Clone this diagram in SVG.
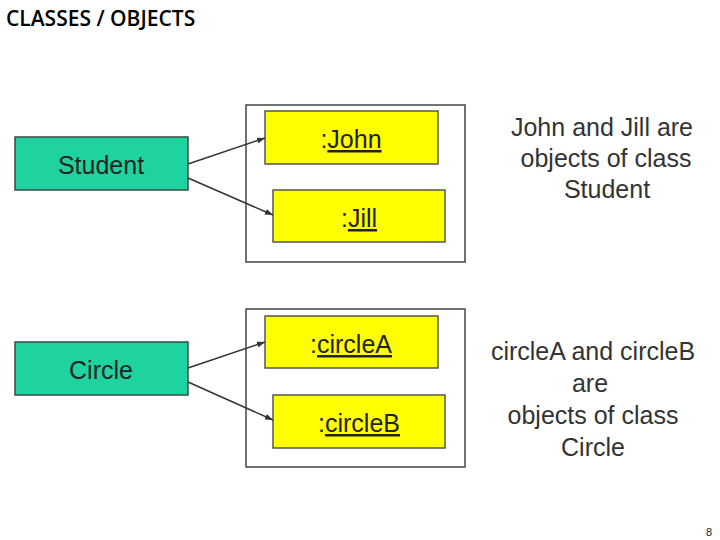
<svg xmlns="http://www.w3.org/2000/svg" width="720" height="540" viewBox="0 0 720 540">
<style>
text{font-family:"Liberation Sans",Arial,sans-serif;fill:#222}
.cls{fill:#1fd3a0;stroke:#3a4a44;stroke-width:1.5}
.obj{fill:#ffff00;stroke:#555;stroke-width:1.5}
.outer{fill:#fff;stroke:#444;stroke-width:1.5}
.lbl{font-size:25px;text-anchor:middle}
.u{text-decoration:underline}
.note{font-size:25px;text-anchor:middle;fill:#333}
.con line{stroke:#333;stroke-width:1.5;marker-end:url(#ah)}
</style>
<defs><marker id="ah" markerWidth="8" markerHeight="6" refX="8" refY="3" orient="auto" markerUnits="userSpaceOnUse"><path d="M0,0L8,3L0,6z" fill="#333"/></marker></defs>
<rect width="720" height="540" fill="#fff"/>
<text x="6" y="26" style="font-family:'Open Sans','Liberation Sans',sans-serif;font-size:21px;font-weight:600;fill:#000">CLASSES / OBJECTS</text>
<rect class="outer" x="246" y="105" width="219" height="157"/>
<rect class="outer" x="246" y="309" width="219" height="158"/>
<g id="student"><rect class="cls" x="15" y="137" width="173" height="53"/><text class="lbl" x="101" y="174">Student</text></g>
<g id="john"><rect class="obj" x="265" y="111" width="173" height="53"/><text class="lbl" x="351" y="148">:<tspan class="u">John</tspan></text></g>
<g id="jill"><rect class="obj" x="273" y="190" width="172" height="52"/><text class="lbl" x="359" y="227">:<tspan class="u">Jill</tspan></text></g>
<g id="circle"><rect class="cls" x="15" y="342" width="173" height="53"/><text class="lbl" x="101" y="379">Circle</text></g>
<g id="circleA"><rect class="obj" x="265" y="316" width="173" height="52"/><text class="lbl" x="351" y="353">:<tspan class="u">circleA</tspan></text></g>
<g id="circleB"><rect class="obj" x="273" y="395" width="172" height="53"/><text class="lbl" x="359" y="432">:<tspan class="u">circleB</tspan></text></g>
<g class="con">
<line x1="188" y1="164" x2="265" y2="138"/>
<line x1="188" y1="178" x2="273" y2="215"/>
<line x1="188" y1="368" x2="265" y2="342"/>
<line x1="188" y1="382" x2="273" y2="420"/>
</g>
<text class="note" x="602" y="136">John and Jill are</text>
<text class="note" x="606" y="167">objects of class</text>
<text class="note" x="607" y="198">Student</text>
<text class="note" x="593" y="360">circleA and circleB</text>
<text class="note" x="590" y="392">are</text>
<text class="note" x="593" y="424">objects of class</text>
<text class="note" x="593" y="456">Circle</text>
<text x="712" y="536" style="font-size:11px;text-anchor:end">8</text>
</svg>
